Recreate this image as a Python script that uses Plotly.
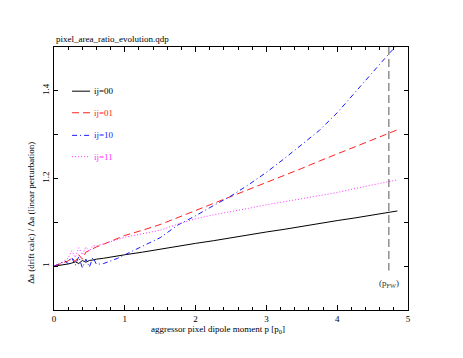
import plotly.graph_objects as go

# dipole moment grid (units of p0)
p = [0, 0.05, 0.1, 0.15, 0.2, 0.25, 0.3, 0.35, 0.4, 0.45, 0.5, 0.55, 0.6, 0.7, 0.8, 0.9,
     1.0, 1.25, 1.5, 1.75, 2.0, 2.25, 2.5, 2.75, 3.0, 3.25, 3.5, 3.75, 4.0, 4.25, 4.5, 4.75, 4.85]

ratio_00 = [1.0, 1.001, 1.003, 1.004, 1.005, 1.007, 1.010, 1.006, 1.013, 1.009, 1.013, 1.014, 1.016, 1.018,
            1.021, 1.023, 1.026, 1.032, 1.039, 1.045, 1.052, 1.058, 1.065, 1.071, 1.078, 1.084, 1.091, 1.097,
            1.104, 1.110, 1.117, 1.123, 1.126]
ratio_01 = [1.0, 1.003, 1.005, 1.008, 1.012, 1.020, 1.010, 1.026, 1.016, 1.032, 1.036, 1.040, 1.044, 1.050,
            1.057, 1.064, 1.070, 1.082, 1.095, 1.111, 1.127, 1.142, 1.158, 1.175, 1.191, 1.207, 1.223, 1.240,
            1.256, 1.272, 1.288, 1.304, 1.311]
ratio_10 = [1.0, 1.004, 1.008, 1.012, 1.006, 1.020, 1.002, 1.022, 0.996, 1.016, 0.998, 1.020, 1.004, 1.006,
            1.012, 1.018, 1.026, 1.045, 1.065, 1.094, 1.115, 1.138, 1.160, 1.186, 1.214, 1.245, 1.277, 1.310,
            1.350, 1.395, 1.442, 1.488, 1.505]
ratio_11 = [1.0, 1.004, 1.006, 1.012, 1.018, 1.035, 1.020, 1.042, 1.026, 1.044, 1.034, 1.047, 1.046, 1.051,
            1.056, 1.061, 1.066, 1.074, 1.082, 1.096, 1.108, 1.117, 1.124, 1.132, 1.140, 1.147, 1.153, 1.160,
            1.168, 1.177, 1.186, 1.194, 1.197]

labels = ["ij=00", "ij=01", "ij=10", "ij=11"]
colors = ["#000000", "#ff2020", "#1a1aff", "#ff33ff"]
dashes = ["solid", "7px,4px", "5px,3px,1px,3px", "1px,2px"]

p_fw = 4.73
p_fw_span = [1.5, 0.99]

FONT = "Liberation Serif, Times New Roman, serif"

fig = go.Figure()
for ys, name, col, dash in zip([ratio_00, ratio_01, ratio_10, ratio_11], labels, colors, dashes):
    fig.add_trace(go.Scatter(x=p, y=ys, name=name, mode='lines',
                             line=dict(color=col, width=1, dash=dash)))

# full-well marker
fig.add_trace(go.Scatter(x=[p_fw, p_fw], y=p_fw_span, mode='lines', showlegend=False,
                         line=dict(color='#555555', width=1, dash='8px,4px')))
fig.add_annotation(x=p_fw, y=0.96, text="(p<sub>FW</sub>)", showarrow=False,
                   font=dict(family=FONT, size=9, color='#333333'))

# hand-drawn legend in the upper left corner
leg_y = [0.832, 0.750, 0.664, 0.583]
for name, col, dash, yy in zip(labels, colors, dashes, leg_y):
    fig.add_shape(type='line', xref='x domain', yref='y domain', x0=0.051, x1=0.102, y0=yy, y1=yy,
                  line=dict(color=col, width=1, dash=dash))
    fig.add_annotation(xref='x domain', yref='y domain', x=0.108, y=yy, text=name, showarrow=False,
                       xanchor='left', yanchor='middle', font=dict(family=FONT, size=9, color=col))

# titles
fig.add_annotation(xref='paper', yref='paper', x=0, y=1.0, yshift=1, text="pixel_area_ratio_evolution.qdp",
                   showarrow=False, xanchor='left', yanchor='bottom', font=dict(family=FONT, size=9))
fig.add_annotation(xref='paper', yref='paper', x=0.462, y=0, yshift=-12,
                   text="aggressor pixel dipole moment p [p<sub>0</sub>]", showarrow=False,
                   xanchor='center', yanchor='top', font=dict(family=FONT, size=9))
fig.add_annotation(xref='paper', yref='paper', x=0, xshift=-23, y=0.37,
                   text="\u0394a (drift calc) / \u0394a (linear perturbation)", showarrow=False, textangle=-90,
                   xanchor='center', yanchor='middle', font=dict(family=FONT, size=9))

axis_common = dict(showline=True, linecolor='black', linewidth=1, mirror='allticks', ticks='inside',
                   showgrid=False, zeroline=False, tickcolor='black',
                   tickfont=dict(family=FONT, size=9, color='black'))

fig.update_xaxes(range=[0, 5], tick0=0, dtick=1, ticklen=5,
                 minor=dict(dtick=0.2, ticks='inside', ticklen=3, tickcolor='black'), **axis_common)
fig.update_yaxes(range=[0.9, 1.5], tick0=1.0, dtick=0.2, ticklen=4, tickangle=-90,
                 minor=dict(dtick=0.1, ticks='inside', ticklen=4, tickcolor='black'), **axis_common)

# page body adds an 8px margin, so the figure is a little smaller than the window
fig.update_layout(width=455, height=350, margin=dict(l=46, r=55, t=39, b=48),
                  paper_bgcolor='white', plot_bgcolor='white', showlegend=False,
                  font=dict(family=FONT, size=9, color='black'))

fig.write_html("out.html")
